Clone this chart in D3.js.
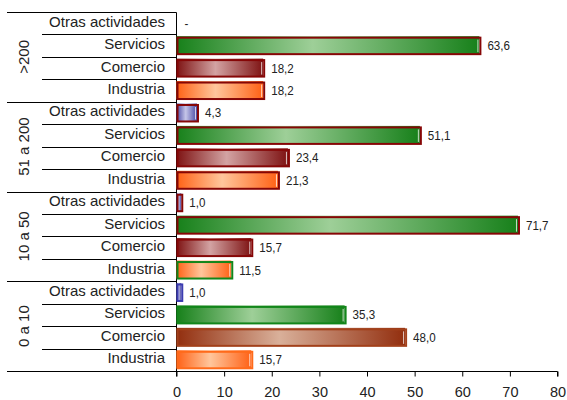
<!DOCTYPE html>
<html>
<head>
<meta charset="utf-8">
<script src="https://cdn.jsdelivr.net/npm/d3@7/dist/d3.min.js"></script>
<style>
  html, body { margin: 0; padding: 0; background: #fff; }
  svg { display: block; }
  text { font-family: "Liberation Sans", Arial, sans-serif; fill: #222; }
</style>
</head>
<body>
<svg id="chart" width="567" height="400"></svg>
<script>
// Size bands (number of employees) and activity sectors
const groups = [">200", "51 a 200", "10 a 50", "0 a 10"];
const sectors = ["Otras actividades", "Servicios", "Comercio", "Industria"];

// Percentages per sector, one array per size band (same order as sectors)
const valuesOver200 = [0, 63.6, 18.2, 18.2];
const values51to200 = [4.3, 51.1, 23.4, 21.3];
const values10to50 = [1.0, 71.7, 15.7, 11.5];
const values0to10 = [1.0, 35.3, 48.0, 15.7];

const xTicks = [0, 10, 20, 30, 40, 50, 60, 70, 80];

const groupValues = [valuesOver200, values51to200, values10to50, values0to10];

// Rows: one per (band, sector)
const rows = [];
groups.forEach((g, gi) => {
  sectors.forEach((s, si) => {
    rows.push({ key: g + "|" + s, group: g, gi, sector: s, si, value: groupValues[gi][si] });
  });
});

// Fill gradients per sector (dark edge / light centre)
const fills = {
  "Servicios": ["#17801a", "#9ecf98"],
  "Comercio": ["#7e1212", "#d3a3a3"],
  "Industria": ["#ff6115", "#ffc69c"],
  "Otras actividades": ["#4848a4", "#c6c6e8"]
};
// The smallest band uses a rust tone for Comercio
const fillComercioSmall = ["#922e0e", "#d9b09a"];

// Outline colours
const darkRed = "#860606";
const outlineOf = r => {
  if (r.gi === 3) {
    return { "Otras actividades": "#3c3cb0", "Servicios": "#12861a", "Comercio": "#a2401a", "Industria": "#ff6a1a" }[r.sector];
  }
  if (r.gi === 2 && r.sector === "Industria") return "#12861a";
  return darkRed;
};

const svg = d3.select("#chart");
const plotTop = 12, plotBottom = 371;
const xLeft = 176.5, xRight = 557.5;

const x = d3.scaleLinear().domain([0, 80]).range([xLeft, xRight]);
const y = d3.scaleBand()
  .domain(rows.map(r => r.key))
  .range([plotTop, plotBottom])
  .paddingInner(0.2)
  .paddingOuter(0.1);
const step = y.step();

// Gradient definitions
const defs = svg.append("defs");
function addGradient(id, dark, light) {
  const g = defs.append("linearGradient").attr("id", id)
    .attr("x1", "0%").attr("x2", "100%").attr("y1", "0%").attr("y2", "0%");
  g.append("stop").attr("offset", "0%").attr("stop-color", dark);
  g.append("stop").attr("offset", "45%").attr("stop-color", light);
  g.append("stop").attr("offset", "100%").attr("stop-color", dark);
}
const gradId = r => "g" + r.gi + "_" + r.si;
rows.forEach(r => {
  const c = (r.gi === 3 && r.sector === "Comercio") ? fillComercioSmall : fills[r.sector];
  addGradient(gradId(r), c[0], c[1]);
});

// Category axis: row separators and group separators
const lines = svg.append("g").attr("stroke", "#000").attr("stroke-width", 1);
for (let i = 0; i <= rows.length; i++) {
  const yy = Math.round(plotTop + i * step) + 0.5;
  const isGroup = i % 4 === 0;
  lines.append("line")
    .attr("x1", isGroup ? 7 : 42).attr("x2", xLeft)
    .attr("y1", yy).attr("y2", yy);
}
lines.append("line")
  .attr("x1", xLeft).attr("x2", xLeft)
  .attr("y1", plotTop + 0.5).attr("y2", plotBottom + 5);

// Sector labels
svg.append("g").selectAll("text").data(rows).join("text")
  .attr("x", 165)
  .attr("y", r => y(r.key) + y.bandwidth() / 2 + 3.5)
  .attr("text-anchor", "end")
  .attr("font-size", 15)
  .text(r => r.sector);

// Group labels (rotated)
svg.append("g").selectAll("text").data(groups).join("text")
  .attr("transform", (g, gi) => {
    const cy = plotTop + (gi * 4 + 2) * step;
    return `translate(28.5,${cy}) rotate(-90)`;
  })
  .attr("text-anchor", "middle")
  .attr("font-size", 15)
  .text(g => g);

// Value axis
const xAxis = d3.axisBottom(x).tickValues(xTicks).tickSize(5).tickPadding(10).tickFormat(d3.format("d"));
const axG = svg.append("g")
  .attr("transform", `translate(0,${plotBottom + 0.5})`)
  .call(xAxis);
axG.select(".domain").attr("stroke", "#000").attr("d", `M${xLeft},5V0H${xRight}V5`);
axG.selectAll(".tick line").attr("stroke", "#000");
axG.selectAll(".tick text")
  .attr("font-size", 14.5)
  .attr("font-family", "Liberation Sans, Arial, sans-serif")
  .attr("fill", "#222");

// Bars
const bars = svg.append("g");
const barRows = rows.filter(r => r.value > 0);
const bh = 17;
const by = r => y(r.key) + y.bandwidth() / 2 - bh / 2;

// fill (slightly taller than its outline, showing a sliver above)
bars.selectAll("rect.fill").data(barRows).join("rect")
  .attr("class", "fill")
  .attr("x", x(0))
  .attr("y", r => by(r) - 1)
  .attr("width", r => x(r.value) - x(0))
  .attr("height", bh + 1)
  .attr("fill", r => `url(#${gradId(r)})`);

// outline
bars.selectAll("rect.outline").data(barRows).join("rect")
  .attr("class", "outline")
  .attr("x", x(0) + 1)
  .attr("y", r => by(r) + 0.5)
  .attr("width", r => Math.max(x(r.value) - x(0), 2))
  .attr("height", bh - 0.5)
  .attr("fill", "none")
  .attr("stroke", r => outlineOf(r))
  .attr("stroke-width", 2);

// light edge near the right end
bars.selectAll("line.hl").data(barRows.filter(r => x(r.value) - x(0) > 6)).join("line")
  .attr("class", "hl")
  .attr("x1", r => x(r.value) - 1.5).attr("x2", r => x(r.value) - 1.5)
  .attr("y1", r => by(r) + 2.5).attr("y2", r => by(r) + bh - 2)
  .attr("stroke", "#fff")
  .attr("stroke-opacity", 0.75)
  .attr("stroke-width", 1);

// Value labels
const fmt = v => v === 0 ? "-" : d3.format(".1f")(v).replace(".", ",");
svg.append("g").selectAll("text").data(rows).join("text")
  .attr("transform", r => `translate(${x(r.value) + 8},${y(r.key) + y.bandwidth() / 2 + 4.5}) scale(0.86,1)`)
  .attr("font-size", 13.5)
  .text(r => fmt(r.value));
</script>
</body>
</html>
